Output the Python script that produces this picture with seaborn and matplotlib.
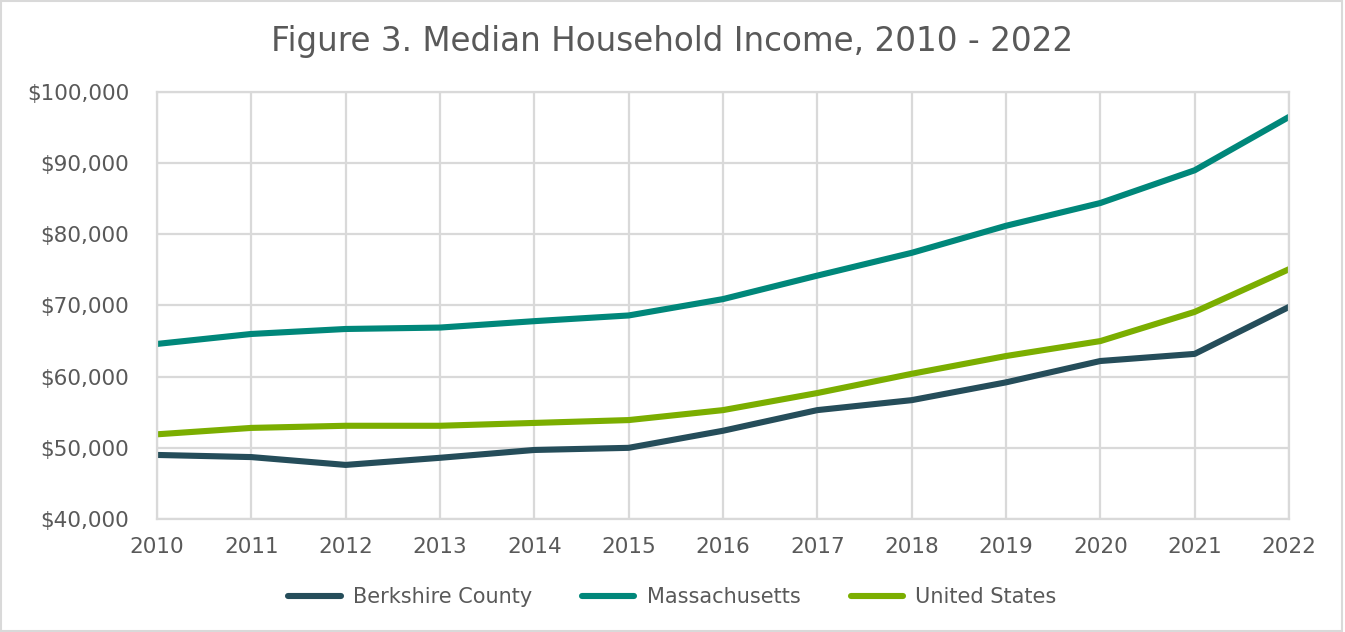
import numpy as np
import pandas as pd
import matplotlib
matplotlib.use("Agg")
import matplotlib.pyplot as plt
import seaborn as sns
from matplotlib.ticker import FuncFormatter
from matplotlib.patches import Rectangle

years = list(range(2010, 2023))
berkshire = [49000, 48700, 47600, 48600, 49700, 50000, 52400, 55300, 56700, 59200, 62200, 63200, 69800]
massachusetts = [64600, 66000, 66700, 66900, 67800, 68600, 70900, 74200, 77400, 81200, 84400, 89000, 96500]
united_states = [51900, 52800, 53100, 53100, 53500, 53900, 55300, 57700, 60400, 62900, 65000, 69100, 75100]
series_names = ["Berkshire County", "Massachusetts", "United States"]
colors = ["#254d5a", "#00877a", "#7bae00"]
title = "Figure 3. Median Household Income, 2010 - 2022"

df = pd.DataFrame({
    "Year": years * 3,
    "Income": berkshire + massachusetts + united_states,
    "Series": sum([[n] * len(years) for n in series_names], []),
})

sns.set_theme(style="white")
plt.rcParams["font.family"] = ["DejaVu Sans"]
text_color = "#595959"
grid_color = "#d9d9d9"

fig = plt.figure(figsize=(13.45, 6.32), dpi=100)
ax = fig.add_axes([157 / 1345, (632 - 519) / 632, (1289 - 157) / 1345, 427 / 632])

sns.lineplot(data=df, x="Year", y="Income", hue="Series", hue_order=series_names,
             palette=colors, linewidth=4.4, ax=ax, legend=False,
             solid_capstyle="round", solid_joinstyle="round")

ax.set_xlim(2010, 2022)
ax.set_ylim(40000, 100000)
ax.set_xticks(years)
ax.set_yticks(range(40000, 100001, 10000))
ax.yaxis.set_major_formatter(FuncFormatter(lambda v, p: f"${v:,.0f}"))
ax.grid(True, color=grid_color, linewidth=1.6)
ax.set_axisbelow(True)
for s in ax.spines.values():
    s.set_color(grid_color)
    s.set_linewidth(1.6)
ax.tick_params(axis="y", length=0, pad=20, labelsize=15.5, labelcolor=text_color)
ax.tick_params(axis="x", length=0, pad=13, labelsize=15.5, labelcolor=text_color)
ax.set_xlabel("")
ax.set_ylabel("")

fig.text(0.5, 1 - 42 / 632, title, ha="center", va="center", fontsize=23.5, color=text_color)

handles = [plt.Line2D([0], [0], color=c, linewidth=4.4, solid_capstyle="round") for c in colors]
leg = fig.legend(handles, series_names, loc="center", bbox_to_anchor=(0.5, 1 - 597 / 632),
                 ncol=3, frameon=False, fontsize=15, handlelength=2.5, columnspacing=2.4,
                 handletextpad=0.6)
for t in leg.get_texts():
    t.set_color(text_color)

fig.patches.append(Rectangle((0.001, 0.001), 0.997, 0.997, transform=fig.transFigure,
                             fill=False, edgecolor=grid_color, linewidth=1.5))

fig.savefig("out.png", dpi=100, facecolor="white")
